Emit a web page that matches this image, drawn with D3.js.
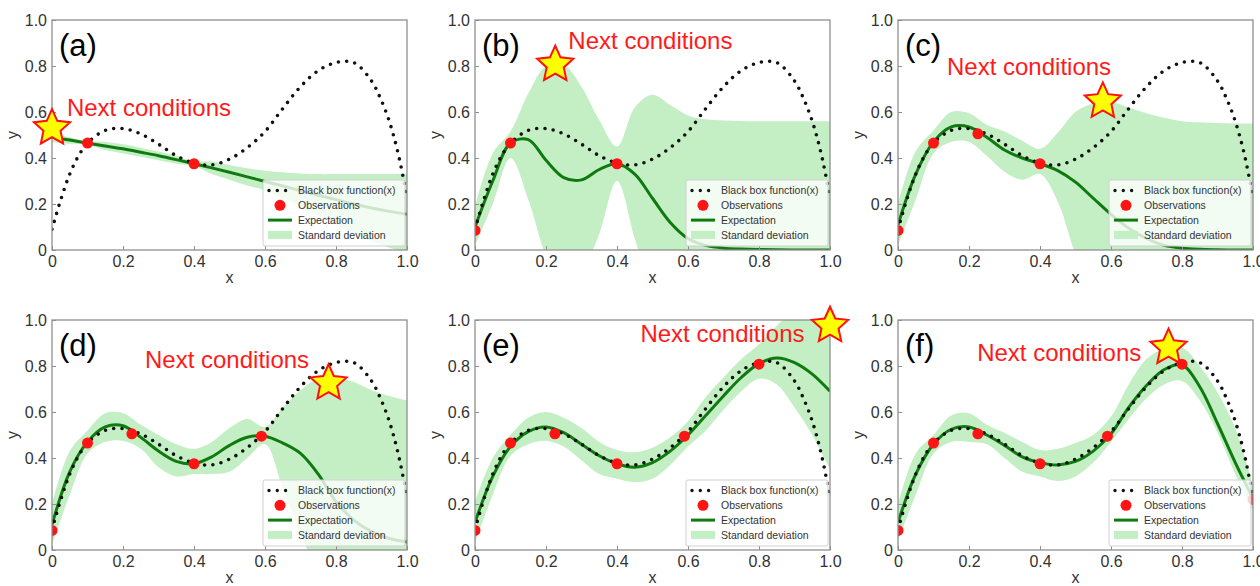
<!DOCTYPE html>
<html>
<head>
<meta charset="utf-8">
<script src="https://cdn.jsdelivr.net/npm/d3@7"></script>
<style>
  body { margin: 0; background: #fff; }
  svg { display: block; font-family: "Liberation Sans", Arial, sans-serif; }
</style>
</head>
<body>
<svg id="chart" width="1260" height="586"></svg>
<script>
// ---- data ----
const gridX = [0, 0.05, 0.1, 0.15, 0.2, 0.25, 0.3, 0.35, 0.4, 0.45, 0.5, 0.55, 0.6, 0.65, 0.7, 0.75, 0.8, 0.85, 0.9, 0.95, 1];

// black box function (dotted)
const bbX = [0, 0.025, 0.05, 0.075, 0.1, 0.15, 0.2, 0.25, 0.3, 0.35, 0.4, 0.45, 0.5, 0.55, 0.6, 0.65, 0.7, 0.75, 0.8, 0.85, 0.9, 0.925, 0.95, 0.975, 1];
const bbY = [0.09, 0.22, 0.33, 0.41, 0.465, 0.52, 0.528, 0.505, 0.46, 0.41, 0.378, 0.37, 0.395, 0.445, 0.515, 0.615, 0.71, 0.78, 0.815, 0.815, 0.735, 0.66, 0.56, 0.42, 0.23];

// all observations, in the order they were taken
const obsX = [0, 0.1, 0.225, 0.4, 0.59, 0.8, 1.0];
const obsY = [0.085, 0.465, 0.505, 0.375, 0.495, 0.808, 0.22];

const panelNames = ["(a)", "(b)", "(c)", "(d)", "(e)", "(f)"];
const panelObs = [[1, 3], [0, 1, 3], [0, 1, 2, 3], [0, 1, 2, 3, 4], [0, 1, 2, 3, 4, 5], [0, 1, 2, 3, 4, 5, 6]];

// expectation per panel
const meanA = [0.49, 0.478, 0.465, 0.452, 0.44, 0.425, 0.41, 0.393, 0.375, 0.357, 0.338, 0.318, 0.298, 0.278, 0.258, 0.238, 0.219, 0.2, 0.183, 0.168, 0.155];
const meanB = [0.10, 0.30, 0.465, 0.48, 0.39, 0.315, 0.305, 0.35, 0.375, 0.33, 0.225, 0.12, 0.05, 0.02, 0.008, 0.004, 0.002, 0.001, 0, 0, 0];
const meanC = [0.11, 0.33, 0.47, 0.535, 0.535, 0.49, 0.435, 0.40, 0.375, 0.345, 0.295, 0.225, 0.155, 0.095, 0.05, 0.02, 0.008, 0.003, 0.001, 0, 0];
const meanD = [0.11, 0.34, 0.47, 0.535, 0.54, 0.49, 0.43, 0.385, 0.375, 0.405, 0.455, 0.49, 0.495, 0.465, 0.42, 0.33, 0.21, 0.13, 0.08, 0.05, 0.035];
const meanE = [0.12, 0.32, 0.45, 0.515, 0.535, 0.51, 0.46, 0.41, 0.375, 0.36, 0.38, 0.43, 0.50, 0.585, 0.67, 0.75, 0.81, 0.835, 0.815, 0.765, 0.69];
const meanF = [0.12, 0.33, 0.46, 0.525, 0.535, 0.50, 0.455, 0.405, 0.38, 0.37, 0.385, 0.43, 0.505, 0.62, 0.715, 0.785, 0.805, 0.71, 0.55, 0.38, 0.225];

// standard deviation band, upper / lower edge per panel
const hiA = [0.51, 0.49, 0.472, 0.47, 0.46, 0.445, 0.428, 0.41, 0.385, 0.385, 0.37, 0.355, 0.345, 0.338, 0.333, 0.33, 0.33, 0.33, 0.33, 0.33, 0.33];
const loA = [0.47, 0.462, 0.458, 0.435, 0.42, 0.405, 0.39, 0.375, 0.365, 0.33, 0.305, 0.28, 0.26, 0.225, 0.19, 0.15, 0.11, 0.075, 0.04, 0.01, -0.01];
const hiB = [0.19, 0.42, 0.515, 0.68, 0.80, 0.805, 0.71, 0.565, 0.45, 0.62, 0.675, 0.63, 0.585, 0.568, 0.563, 0.561, 0.56, 0.56, 0.56, 0.56, 0.56];
const loB = [0.02, 0.20, 0.40, 0.22, -0.03, -0.2, -0.1, 0.07, 0.30, 0.05, -0.2, -0.4, -0.5, -0.53, -0.55, -0.55, -0.56, -0.56, -0.56, -0.56, -0.56];
const hiC = [0.2, 0.43, 0.52, 0.60, 0.595, 0.545, 0.515, 0.475, 0.44, 0.51, 0.60, 0.638, 0.645, 0.62, 0.595, 0.575, 0.56, 0.555, 0.552, 0.55, 0.55];
const loC = [0.02, 0.22, 0.42, 0.47, 0.47, 0.41, 0.34, 0.305, 0.33, 0.21, -0.02, -0.2, -0.33, -0.43, -0.5, -0.53, -0.55, -0.55, -0.55, -0.55, -0.55];
const hiD = [0.2, 0.43, 0.52, 0.595, 0.595, 0.545, 0.50, 0.46, 0.44, 0.47, 0.53, 0.57, 0.535, 0.62, 0.695, 0.745, 0.75, 0.73, 0.695, 0.67, 0.65];
const loD = [0.02, 0.24, 0.42, 0.47, 0.475, 0.44, 0.36, 0.32, 0.33, 0.33, 0.34, 0.40, 0.46, 0.27, 0.07, -0.1, -0.25, -0.38, -0.48, -0.55, -0.6];
const hiE = [0.21, 0.40, 0.50, 0.575, 0.60, 0.575, 0.53, 0.47, 0.435, 0.425, 0.445, 0.49, 0.56, 0.665, 0.75, 0.83, 0.895, 0.975, 1.05, 1.12, 1.2];
const loE = [0.03, 0.24, 0.41, 0.46, 0.475, 0.45, 0.39, 0.33, 0.31, 0.295, 0.31, 0.37, 0.45, 0.52, 0.61, 0.69, 0.745, 0.72, 0.62, 0.50, 0.35];
const hiF = [0.2, 0.42, 0.50, 0.585, 0.595, 0.545, 0.51, 0.47, 0.435, 0.44, 0.465, 0.50, 0.58, 0.72, 0.83, 0.875, 0.88, 0.80, 0.685, 0.53, 0.28];
const loF = [0.04, 0.24, 0.42, 0.47, 0.47, 0.46, 0.40, 0.34, 0.32, 0.30, 0.32, 0.38, 0.47, 0.57, 0.66, 0.72, 0.735, 0.65, 0.51, 0.33, 0.17];

// next condition (star) and where its label sits, in data units
const starX = [0, 0.226, 0.577, 0.779, 1.0, 0.762];
const starY = [0.53, 0.806, 0.646, 0.725, 0.975, 0.88];
const noteX = [0.042, 0.263, 0.138, 0.262, 0.466, 0.223];
const noteY = [0.584, 0.873, 0.759, 0.79, 0.905, 0.82];

const tickVals = [0, 0.2, 0.4, 0.6, 0.8, 1.0];
const legendLabels = ["Black box function(x)", "Observations", "Expectation", "Standard deviation"];

const means = [meanA, meanB, meanC, meanD, meanE, meanF];
const his = [hiA, hiB, hiC, hiD, hiE, hiF];
const los = [loA, loB, loC, loD, loE, loF];

// ---- layout ----
const colLeft = [52, 475, 898];
const rowTop = [20, 320];
const pw = 355, ph = 230;

const bandColor = "#c4efc4";
const lineColor = "#0f7a0f";
const dotColor = "#ff1414";
const frameColor = "#8f8f8f";
const textColor = "#333";

const svg = d3.select("#chart");
const fmt = d => d === 0 ? "0" : d3.format(".1f")(d);

const starPath = d3.lineRadial()
    .curve(d3.curveLinearClosed)
    (d3.range(10).map(i => [i * Math.PI / 5, i % 2 ? 9 : 19]));

panelNames.forEach((name, p) => {
    const left = colLeft[p % 3];
    const top = rowTop[Math.floor(p / 3)];
    const g = svg.append("g").attr("transform", `translate(${left},${top})`);

    const x = d3.scaleLinear().domain([0, 1]).range([0, pw]);
    const y = d3.scaleLinear().domain([0, 1]).range([ph, 0]);

    const clipId = "clip" + p;
    g.append("clipPath").attr("id", clipId)
        .append("rect").attr("width", pw).attr("height", ph);

    const plot = g.append("g").attr("clip-path", `url(#${clipId})`);

    // band
    const area = d3.area()
        .x((d, i) => x(gridX[i]))
        .y0((d, i) => y(los[p][i]))
        .y1((d, i) => y(his[p][i]))
        .curve(d3.curveCatmullRom);
    plot.append("path")
        .datum(gridX)
        .attr("d", area)
        .attr("fill", bandColor);

    // expectation
    const meanLine = d3.line()
        .x((d, i) => x(gridX[i]))
        .y(d => y(d))
        .curve(d3.curveCatmullRom);
    plot.append("path")
        .datum(means[p])
        .attr("d", meanLine)
        .attr("fill", "none")
        .attr("stroke", lineColor)
        .attr("stroke-width", 3);

    // black box function
    const bbLine = d3.line()
        .x((d, i) => x(bbX[i]))
        .y(d => y(d))
        .curve(d3.curveCatmullRom);
    plot.append("path")
        .datum(bbY)
        .attr("d", bbLine)
        .attr("fill", "none")
        .attr("stroke", "#111")
        .attr("stroke-width", 3.6)
        .attr("stroke-linecap", "round")
        .attr("stroke-dasharray", "0 8.3");

    // observations
    plot.selectAll("circle.obs")
        .data(panelObs[p])
        .enter()
        .append("circle")
        .attr("class", "obs")
        .attr("cx", i => x(obsX[i]))
        .attr("cy", i => y(obsY[i]))
        .attr("r", 5.5)
        .attr("fill", dotColor);

    // axes, ticks pointing inward
    const xAxis = g.append("g")
        .attr("transform", `translate(0,${ph})`)
        .call(d3.axisBottom(x).tickValues(tickVals).tickFormat(fmt).tickSize(-4).tickPadding(6));
    const yAxis = g.append("g")
        .call(d3.axisLeft(y).tickValues(tickVals).tickFormat(fmt).tickSize(-4).tickPadding(5));
    [xAxis, yAxis].forEach(a => {
        a.select(".domain").remove();
        a.selectAll("line").attr("stroke", frameColor);
        a.selectAll("text")
            .attr("fill", textColor)
            .style("font-size", "16px")
            .style("font-family", "'Liberation Sans', Arial, sans-serif");
    });

    g.append("rect")
        .attr("width", pw).attr("height", ph)
        .attr("fill", "none")
        .attr("stroke", frameColor)
        .attr("stroke-width", 1.3);

    g.append("text")
        .attr("x", pw / 2).attr("y", ph + 33)
        .attr("text-anchor", "middle")
        .attr("fill", textColor)
        .style("font-size", "16px")
        .text("x");
    g.append("text")
        .attr("transform", `translate(-34,${ph / 2}) rotate(-90)`)
        .attr("text-anchor", "middle")
        .attr("fill", textColor)
        .style("font-size", "16px")
        .text("y");

    // legend
    const lw = 142, lh = 66;
    const lg = g.append("g").attr("transform", `translate(${pw - lw - 2},${ph - lh - 4})`);
    lg.append("rect")
        .attr("width", lw).attr("height", lh)
        .attr("rx", 2)
        .attr("fill", "#fff").attr("fill-opacity", 0.8)
        .attr("stroke", "#d0d0d0");
    const rowY = i => 10.5 + i * 14.8;
    lg.append("line")
        .attr("x1", 6).attr("x2", 28)
        .attr("y1", rowY(0)).attr("y2", rowY(0))
        .attr("stroke", "#111").attr("stroke-width", 3.4)
        .attr("stroke-linecap", "round").attr("stroke-dasharray", "0 8.3");
    lg.append("circle")
        .attr("cx", 17).attr("cy", rowY(1)).attr("r", 5.5)
        .attr("fill", dotColor);
    lg.append("line")
        .attr("x1", 5).attr("x2", 29)
        .attr("y1", rowY(2)).attr("y2", rowY(2))
        .attr("stroke", lineColor).attr("stroke-width", 3);
    lg.append("rect")
        .attr("x", 5).attr("y", rowY(3) - 4)
        .attr("width", 24).attr("height", 8)
        .attr("fill", bandColor);
    lg.selectAll("text.leg")
        .data(legendLabels)
        .enter()
        .append("text")
        .attr("class", "leg")
        .attr("x", 35)
        .attr("y", (d, i) => rowY(i))
        .attr("dy", "0.35em")
        .attr("fill", textColor)
        .style("font-size", "10.5px")
        .text(d => d);

    // panel label
    g.append("text")
        .attr("x", 7).attr("y", 36)
        .attr("fill", "#000")
        .style("font-size", "31px")
        .text(name);

    // next condition
    g.append("text")
        .attr("x", x(noteX[p])).attr("y", y(noteY[p]))
        .attr("fill", "#ff1a1a")
        .style("font-size", "24px")
        .text("Next conditions");
    g.append("path")
        .attr("transform", `translate(${x(starX[p])},${y(starY[p])})`)
        .attr("d", starPath)
        .attr("fill", "#ffff00")
        .attr("stroke", "#ff1010")
        .attr("stroke-width", 2);
});
</script>
</body>
</html>
